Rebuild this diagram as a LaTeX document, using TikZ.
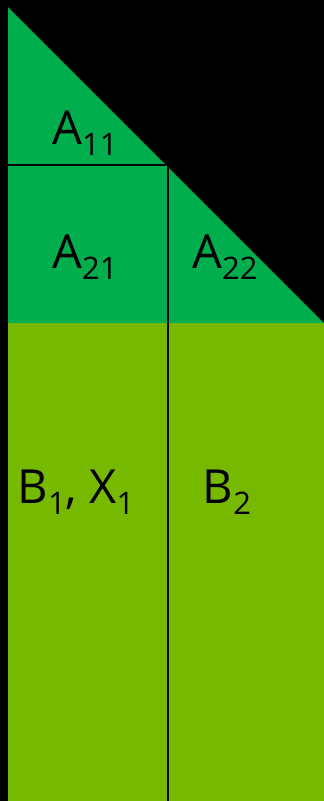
\documentclass[tikz,border=0pt]{standalone}
\usepackage{fontspec}
\setmainfont{Open Sans}
\usetikzlibrary{positioning}
\definecolor{blkgreen}{RGB}{0,174,77}
\definecolor{blklime}{RGB}{118,185,0}
\newcommand{\blkidx}[1]{\raisebox{-11pt}{\fontsize{31}{31}\selectfont #1}}

\begin{document}
\begin{tikzpicture}[
  x=1pt, y=-1pt,
  blklabel/.style={font=\fontsize{47}{50}\selectfont, inner sep=0pt, anchor=base},
  divider/.style={line width=2pt, black}
]

% Background
\fill[black] (0,0) rectangle (324,801);
\useasboundingbox (0,0) rectangle (324,801);

% Triangular matrix A
\fill[blkgreen] (8,7) -- (324,323) -- (8,323) -- cycle;

% Right-hand side B
\fill[blklime] (8,323) rectangle (324,801);

% Block borders
\draw[divider] (8,165) -- (166,165);
\draw[divider] (168,166) -- (168,801);

% Labels
\node[blklabel] (a11) at (85,144) {A\blkidx{11}};
\node[blklabel] (a21) at (85,268) {A\blkidx{21}};
\node[blklabel] (a22) at (225,268) {A\blkidx{22}};
\node[blklabel] (b1) at (76,503) {B\blkidx{1}, X\blkidx{1}};
\node[blklabel] (b2) at (227,503) {B\blkidx{2}};

\end{tikzpicture}
\end{document}
